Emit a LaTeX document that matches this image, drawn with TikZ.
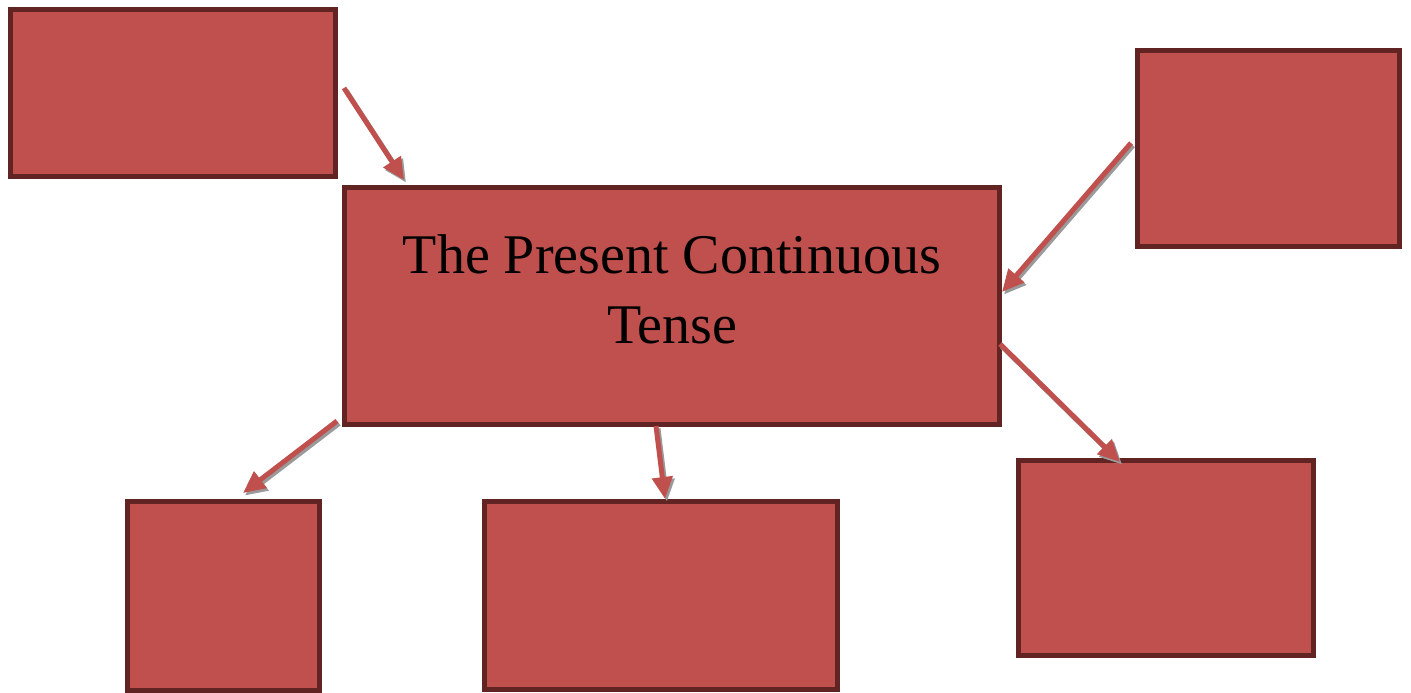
\documentclass[tikz,border=0pt]{standalone}
\usepackage{fontspec}
\setmainfont{Liberation Serif}
\usetikzlibrary{arrows.meta,calc}
\definecolor{boxfill}{HTML}{C0504D}
\definecolor{boxline}{HTML}{622423}
\definecolor{shadowgray}{HTML}{9A9A9A}
\tikzset{
  box/.style={draw=boxline, fill=boxfill, line width=5pt, rectangle, inner sep=0pt, outer sep=0pt, anchor=north west},
  conn/.style={draw=boxfill, line width=5pt, -{Triangle[length=22pt,width=20pt]}},
  connshadow/.style={draw=shadowgray, line width=5pt, -{Triangle[length=22pt,width=20pt,color=shadowgray]}, transform canvas={shift={(2pt,-2.5pt)}}},
}
\begin{document}
\begin{tikzpicture}[x=1pt,y=-1pt]
\useasboundingbox (0,0) rectangle (1411,693);
\node[box, minimum width=325pt, minimum height=167pt] (tl) at (10.5,9.5) {};
\node[box, minimum width=655pt, minimum height=237pt] (main) at (344.5,187.5) {};
\node[box, minimum width=262pt, minimum height=196pt] (tr) at (1137.5,50.5) {};
\node[box, minimum width=192pt, minimum height=189pt] (bl) at (127.5,501.5) {};
\node[box, minimum width=353pt, minimum height=188pt] (bm) at (484.5,501.5) {};
\node[box, minimum width=295pt, minimum height=195pt] (br) at (1018.5,460.5) {};
\node[align=center, font=\fontsize{56}{70}\selectfont, inner sep=0pt] (title) at (672,289) {The Present Continuous\\Tense};
% connector ends
\coordinate (a1s) at ($(tl.east)+(8.5,-5)$);
\coordinate (a1e) at ($(main.north west)+(59.5,-7.5)$);
\coordinate (a2s) at ($(tr.west)+(-6.5,-5.5)$);
\coordinate (a2e) at ($(main.east)+(2.5,-14)$);
\coordinate (a3s) at ($(main.south west)+(-7.5,-3.5)$);
\coordinate (a3e) at ($(bl.north)+(19.5,-8.5)$);
\coordinate (a4s) at ($(main.south)+(-16,1.5)$);
\coordinate (a4e) at ($(bm.north)+(4,-2.5)$);
\coordinate (a5s) at ($(main.east)+(0.5,38)$);
\coordinate (a5e) at ($(br.north west)+(101.5,1.5)$);
\foreach \s/\e in {a1s/a1e,a2s/a2e,a3s/a3e,a4s/a4e,a5s/a5e}{
  \draw[connshadow] (\s) -- (\e);
}
\foreach \s/\e in {a1s/a1e,a2s/a2e,a3s/a3e,a4s/a4e,a5s/a5e}{
  \draw[conn] (\s) -- (\e);
}
\end{tikzpicture}
\end{document}
